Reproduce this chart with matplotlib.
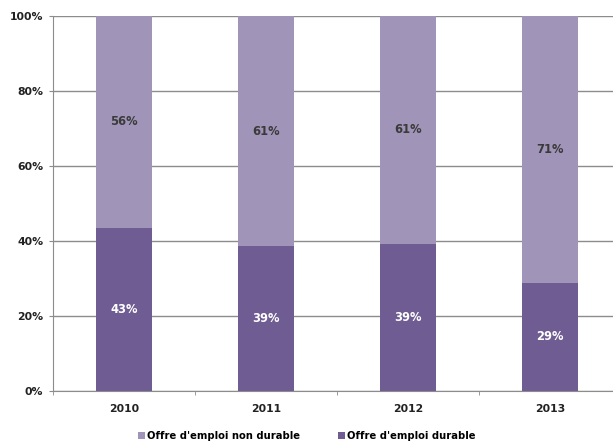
import matplotlib.pyplot as plt
import numpy as np
from matplotlib.ticker import FuncFormatter

years = ["2010", "2011", "2012", "2013"]
# share of each kind of job offer (bar heights, %)
durable = [43.5, 38.6, 39.3, 28.9]
non_durable = [56.5, 61.4, 60.7, 71.1]
# printed labels
durable_labels = ["43%", "39%", "39%", "29%"]
non_durable_labels = ["56%", "61%", "61%", "71%"]

DARK = "#6E5C93"
LIGHT = "#A095B9"
GRID = "#8C8C8C"

plt.rcParams['font.family'] = ['DejaVu Sans']
plt.rcParams['font.weight'] = 'bold'

fig, ax = plt.subplots(figsize=(6.13, 4.43), dpi=100)
# plot area runs slightly past the right edge, like the original export
fig.subplots_adjust(left=0.0865, right=1.013, top=0.964, bottom=0.117)

x = np.arange(len(years))
b1 = ax.bar(x, durable, width=0.395, color=DARK, label="Offre d'emploi durable", zorder=3)
b2 = ax.bar(x, non_durable, width=0.395, bottom=durable, color=LIGHT,
            label="Offre d'emploi non durable", zorder=3)

for i in range(len(years)):
    ax.text(x[i], durable[i] / 2, durable_labels[i], ha='center', va='center',
            color='white', fontsize=8.3, fontweight='bold', zorder=4)
    ax.text(x[i], durable[i] + non_durable[i] / 2, non_durable_labels[i], ha='center',
            va='center', color='#3a3a3a', fontsize=8.3, fontweight='bold', zorder=4)

ax.set_ylim(0, 100)
ax.set_xlim(-0.5, len(years) - 0.5)
ax.set_yticks(np.arange(0, 101, 20))
ax.yaxis.set_major_formatter(FuncFormatter(lambda v, p: f"{int(v)}%"))
ax.yaxis.grid(True, color=GRID, linewidth=1, zorder=0)

ax.set_xticks(x)
ax.set_xticklabels(years)
ax.set_xticks(np.arange(-0.5, len(years), 1), minor=True)
ax.tick_params(axis='x', which='major', length=0, pad=9, labelsize=7.8, labelcolor='#222222')
ax.tick_params(axis='x', which='minor', length=3, color=GRID, direction='out')
ax.tick_params(axis='y', length=3, color=GRID, labelsize=7.8, labelcolor='#222222', pad=4)

for s in ['top', 'right']:
    ax.spines[s].set_visible(False)
for s in ['left', 'bottom']:
    ax.spines[s].set_color(GRID)

handles = [b2, b1]
fig.legend(handles, [h.get_label() for h in handles], loc='center',
           bbox_to_anchor=(0.5, 0.016), ncol=2, frameon=False, fontsize=7.2,
           handlelength=0.7, handleheight=0.7, handletextpad=0.2, columnspacing=3.8,
           borderpad=0, borderaxespad=0)

fig.savefig("out.png", dpi=100)
